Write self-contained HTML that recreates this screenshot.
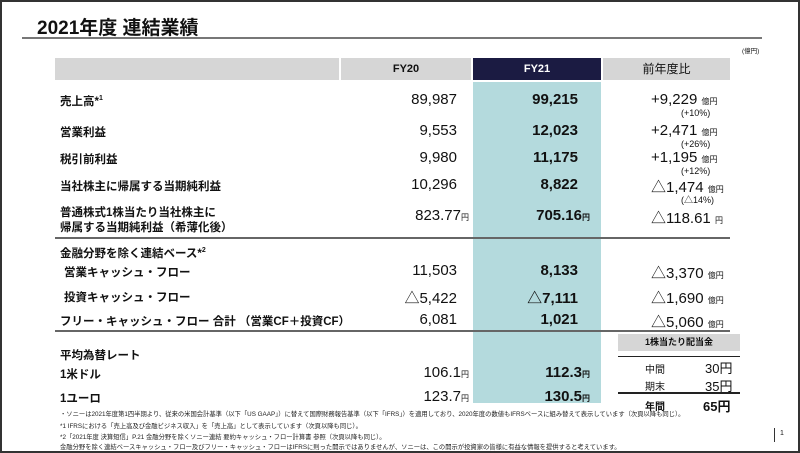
<!DOCTYPE html><html><head><meta charset="utf-8"><style>
*{margin:0;padding:0;box-sizing:border-box}
body{width:800px;height:453px;background:#fff;position:relative;overflow:hidden;font-family:"Liberation Sans","Noto Sans CJK JP",sans-serif;color:#111}
.frame{position:absolute;left:0;top:0;width:800px;height:453px;border:2px solid #333}
.a{position:absolute;white-space:nowrap}
.b{font-weight:bold}
.r{text-align:right}
.c{text-align:center}
.L{font-size:11.5px;font-weight:bold}
.N{font-size:15px}
.y{font-size:8px}
.p{font-size:9px}
.f{font-size:6.3px;color:#222}
</style></head><body>
<div class="frame"></div>
<div class="a b" style="left:37px;top:13px;font-size:19px">2021年度 連結業績</div>
<div class="a" style="left:22px;top:37px;width:740px;height:2px;background:#777"></div>
<div class="a" style="left:742px;top:45px;font-size:6.5px">(億円)</div>
<div class="a" style="left:55px;top:58px;width:284px;height:22px;background:#d6d6d6"></div>
<div class="a c b" style="left:341px;top:58px;width:130px;height:22px;background:#d6d6d6;font-size:11px;line-height:22px">FY20</div>
<div class="a c b" style="left:473px;top:58px;width:128px;height:22px;background:#1b1b42;color:#fff;font-size:11px;line-height:22px">FY21</div>
<div class="a c" style="left:603px;top:58px;width:127px;height:22px;background:#d6d6d6;font-size:12px;line-height:22px">前年度比</div>
<div class="a" style="left:473px;top:82px;width:128px;height:321px;background:#b4dadd"></div>
<div class="a" style="left:55px;top:237px;width:675px;height:2px;background:#666"></div>
<div class="a" style="left:55px;top:330px;width:675px;height:2px;background:#666"></div>

<div class="a L" style="left:60px;top:93px">売上高*<sup style="font-size:7px">1</sup></div>
<div class="a L" style="left:60px;top:124px">営業利益</div>
<div class="a L" style="left:60px;top:151px">税引前利益</div>
<div class="a L" style="left:60px;top:178px">当社株主に帰属する当期純利益</div>
<div class="a L" style="left:60px;top:206px;line-height:15px">普通株式1株当たり当社株主に<br>帰属する当期純利益（希薄化後）</div>
<div class="a L" style="left:60px;top:245px">金融分野を除く連結ベース*<sup style="font-size:7px">2</sup></div>
<div class="a L" style="left:64px;top:264px">営業キャッシュ・フロー</div>
<div class="a L" style="left:64px;top:289px">投資キャッシュ・フロー</div>
<div class="a L" style="left:60px;top:313px">フリー・キャッシュ・フロー 合計 （営業CF＋投資CF）</div>
<div class="a L" style="left:60px;top:347px">平均為替レート</div>
<div class="a L" style="left:60px;top:366px">1米ドル</div>
<div class="a L" style="left:60px;top:390px">1ユーロ</div>

<div class="a r N" style="right:343px;top:91px">89,987</div>
<div class="a r N" style="right:343px;top:122px">9,553</div>
<div class="a r N" style="right:343px;top:149px">9,980</div>
<div class="a r N" style="right:343px;top:176px">10,296</div>
<div class="a r N" style="right:331px;top:207px">823.77<span class="y">円</span></div>
<div class="a r N" style="right:343px;top:262px">11,503</div>
<div class="a r N" style="right:343px;top:287px">△5,422</div>
<div class="a r N" style="right:343px;top:311px">6,081</div>
<div class="a r N" style="right:331px;top:364px">106.1<span class="y">円</span></div>
<div class="a r N" style="right:331px;top:388px">123.7<span class="y">円</span></div>

<div class="a r N b" style="right:222px;top:91px">99,215</div>
<div class="a r N b" style="right:222px;top:122px">12,023</div>
<div class="a r N b" style="right:222px;top:149px">11,175</div>
<div class="a r N b" style="right:222px;top:176px">8,822</div>
<div class="a r N b" style="right:210px;top:207px">705.16<span class="y">円</span></div>
<div class="a r N b" style="right:222px;top:262px">8,133</div>
<div class="a r N b" style="right:222px;top:287px">△7,111</div>
<div class="a r N b" style="right:222px;top:311px">1,021</div>
<div class="a r N b" style="right:210px;top:364px">112.3<span class="y">円</span></div>
<div class="a r N b" style="right:210px;top:388px">130.5<span class="y">円</span></div>

<div class="a N" style="left:651px;top:91px">+9,229 <span class="y">億円</span></div>
<div class="a p" style="left:681px;top:108px">(+10%)</div>
<div class="a N" style="left:651px;top:122px">+2,471 <span class="y">億円</span></div>
<div class="a p" style="left:681px;top:139px">(+26%)</div>
<div class="a N" style="left:651px;top:149px">+1,195 <span class="y">億円</span></div>
<div class="a p" style="left:681px;top:166px">(+12%)</div>
<div class="a N" style="left:651px;top:176px">△1,474 <span class="y">億円</span></div>
<div class="a p" style="left:681px;top:193px">(△14%)</div>
<div class="a N" style="left:651px;top:207px">△118.61 <span class="y">円</span></div>
<div class="a N" style="left:651px;top:262px">△3,370 <span class="y">億円</span></div>
<div class="a N" style="left:651px;top:287px">△1,690 <span class="y">億円</span></div>
<div class="a N" style="left:651px;top:311px">△5,060 <span class="y">億円</span></div>

<div class="a c b" style="left:618px;top:334px;width:122px;height:17px;background:#d6d6d6;font-size:9px;line-height:17px">1株当たり配当金</div>
<div class="a" style="left:618px;top:356px;width:122px;height:1px;background:#222"></div>
<div class="a" style="left:618px;top:392px;width:122px;height:1.5px;background:#222"></div>
<div class="a" style="left:645px;top:361px;font-size:10px">中間</div>
<div class="a" style="left:705px;top:358px;font-size:13px">30円</div>
<div class="a" style="left:645px;top:378px;font-size:10px">期末</div>
<div class="a" style="left:705px;top:376px;font-size:13px">35円</div>
<div class="a b" style="left:645px;top:398px;font-size:10px">年間</div>
<div class="a b" style="left:703px;top:396px;font-size:13px">65円</div>

<div class="a f" style="left:60px;top:409px">・ソニーは2021年度第1四半期より、従来の米国会計基準（以下「US GAAP」）に替えて国際財務報告基準（以下「IFRS」）を適用しており、2020年度の数値もIFRSベースに組み替えて表示しています（次頁以降も同じ）。</div>
<div class="a f" style="left:60px;top:421px">*1 IFRSにおける「売上高及び金融ビジネス収入」を「売上高」として表示しています（次頁以降も同じ）。</div>
<div class="a f" style="left:60px;top:432px">*2「2021年度 決算短信」P.21 金融分野を除くソニー連結 要約キャッシュ・フロー計算書 参照（次頁以降も同じ）。</div>
<div class="a f" style="left:60px;top:442px">金融分野を除く連結ベースキャッシュ・フロー及びフリー・キャッシュ・フローはIFRSに則った開示ではありませんが、ソニーは、この開示が投資家の皆様に有益な情報を提供すると考えています。</div>
<div class="a" style="left:774px;top:428px;width:1px;height:14px;background:#333"></div>
<div class="a" style="left:780px;top:430px;font-size:7px">1</div>
</body></html>
